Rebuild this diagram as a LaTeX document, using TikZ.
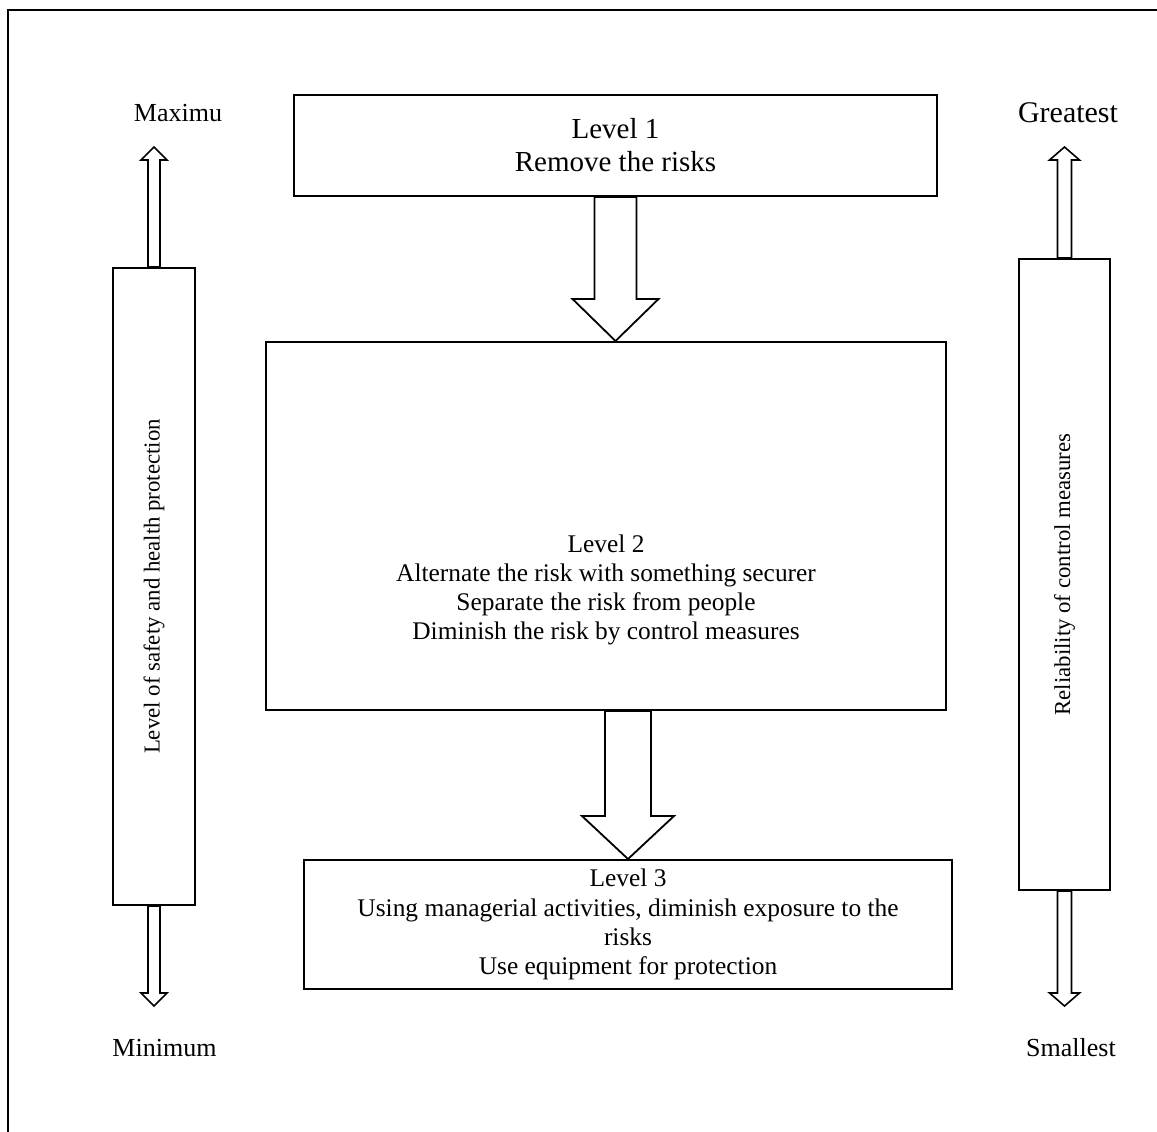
\documentclass[tikz,border=0pt]{standalone}
\usepackage{fontspec}
\setmainfont{Liberation Serif}
\usetikzlibrary{positioning,calc}

% open block arrow: style, start, tip, half shaft, half head, head length
\newcommand\openarrow[6]{%
  \coordinate (oabase) at ($(#3)!#6!(#2)$);
  \draw[#1] ($(#2)!#4!90:(#3)$) -- ($(oabase)!#4!90:(#3)$) -- ($(oabase)!#5!90:(#3)$) -- (#3)
    -- ($(oabase)!#5!-90:(#3)$) -- ($(oabase)!#4!-90:(#3)$) -- ($(#2)!#4!-90:(#3)$) -- cycle;
}

\begin{document}
\begin{tikzpicture}[x=0.5pt,y=-0.5pt,
    levelbox/.style={
      rectangle, draw=black, line width=1pt, inner sep=0pt,
      align=center, font=\fontsize{12.7}{14.6}\selectfont
    },
    barbox/.style={
      rectangle, draw=black, line width=1pt, inner sep=0pt,
      rotate=90, font=\fontsize{11.4}{13}\selectfont
    },
    fatarrow/.style={draw=black, line width=0.9pt, fill=white, line join=miter},
    thinarrow/.style={draw=black, line width=0.8pt, fill=white, line join=miter},
    endlabel/.style={font=\fontsize{13}{15}\selectfont, inner sep=0pt}
  ]
  \clip (0,0) rectangle (1157,1131);
  \draw[line width=1.1pt] (8,10) rectangle (1200,1200);

  % the three levels
  \node[levelbox, minimum width=321.5pt, minimum height=50.5pt,
        font=\fontsize{14.5}{16.5}\selectfont] (l1) at (615.5,145.5)
    {Level 1\\Remove the risks};
  \node[levelbox, minimum width=340pt, minimum height=184pt] (l2) at (606,526) {};
  \node[levelbox, draw=none] (l2text) at (606,590)
    {Level 2\\Alternate the risk with something securer\\Separate the risk from people\\Diminish the risk by control measures};
  \node[levelbox, minimum width=324pt, minimum height=64.5pt] (l3) at (628,924.5)
    {Level 3\\Using managerial activities, diminish exposure to the\\risks\\Use equipment for protection};

  % side bars
  \node[barbox, minimum width=318.5pt, minimum height=41pt] (lbar) at (154,586.5)
    {Level of safety and health protection};
  \node[barbox, minimum width=315.5pt, minimum height=45.5pt] (rbar) at (1064.5,574.5)
    {Reliability of control measures};

  \node[endlabel] (maxlbl) at (178,113) {Maximu};
  \node[endlabel] (minlbl) at (164.5,1048) {Minimum};
  \node[endlabel, font=\fontsize{15}{17}\selectfont] (greatlbl) at (1068,113) {Greatest};
  \node[endlabel] (smalllbl) at (1071,1048) {Smallest};

  \coordinate (maxtip) at (lbar.east |- 0,147);
  \coordinate (mintip) at (lbar.west |- 0,1006);
  \coordinate (greattip) at (rbar.east |- 0,147);
  \coordinate (smalltip) at (rbar.west |- 0,1006);

  % arrows
  \coordinate (a1tip) at (l1.south |- l2.north);
  \coordinate (a2top) at (l2.south -| l3.north);
  \openarrow{fatarrow}{l1.south}{a1tip}{10.5pt}{21.5pt}{21pt}
  \openarrow{fatarrow}{a2top}{l3.north}{11.5pt}{23pt}{21.5pt}

  \openarrow{thinarrow}{lbar.east}{maxtip}{3pt}{6.5pt}{6.5pt}
  \openarrow{thinarrow}{lbar.west}{mintip}{3pt}{6.5pt}{6.5pt}
  \openarrow{thinarrow}{rbar.east}{greattip}{3.5pt}{7.5pt}{6.5pt}
  \openarrow{thinarrow}{rbar.west}{smalltip}{3.5pt}{7.5pt}{6.5pt}
\end{tikzpicture}
\end{document}
